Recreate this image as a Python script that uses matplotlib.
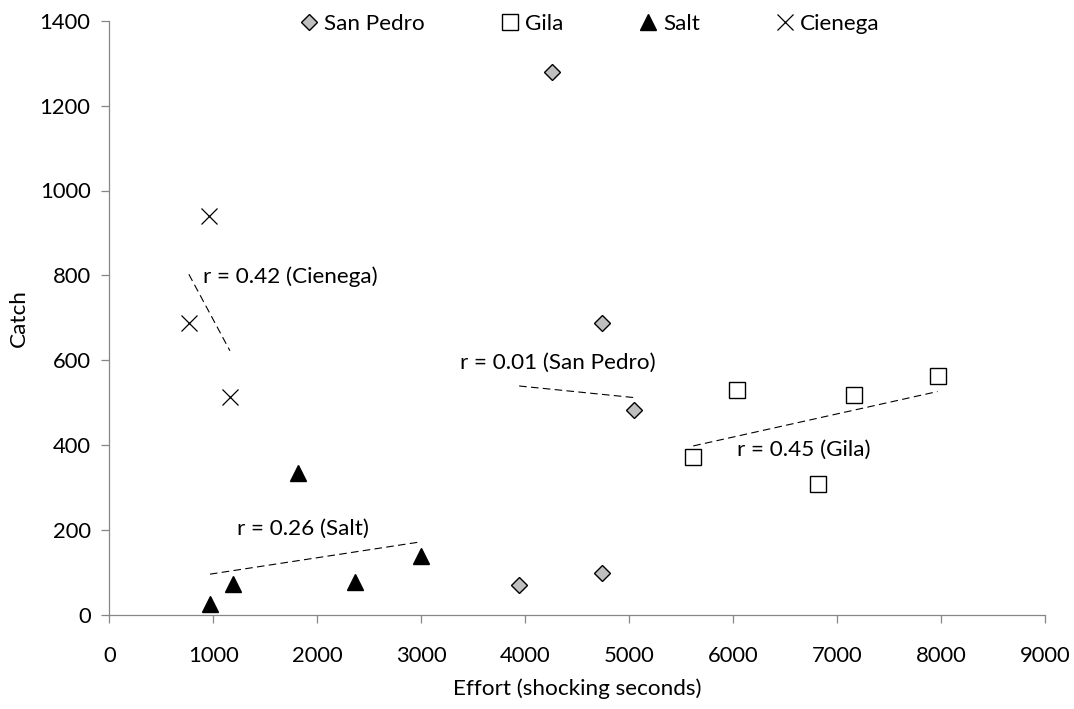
import numpy as np
import matplotlib
matplotlib.use("Agg")
import matplotlib.pyplot as plt

plt.rcParams['font.family'] = ['Lato', 'DejaVu Sans']

# Effort (shocking seconds) and catch per river
san_pedro_x = [4252, 4736, 5047, 3941, 4739]
san_pedro_y = [1280, 689, 483, 71, 100]
gila_x = [5615, 6032, 6811, 7162, 7964]
gila_y = [373, 530, 308, 518, 563]
salt_x = [968, 1193, 1813, 2367, 3000]
salt_y = [26, 73, 334, 78, 139]
cienega_x = [765, 957, 1160]
cienega_y = [687, 940, 513]

series_names = ["San Pedro", "Gila", "Salt", "Cienega"]
r_labels = ["r = 0.01 (San Pedro)", "r = 0.45 (Gila)", "r = 0.26 (Salt)", "r = 0.42 (Cienega)"]
r_label_pos = [(3369, 593), (6040, 389), (1227, 204), (903, 797)]

x_ticks = list(range(0, 9001, 1000))
y_ticks = list(range(0, 1401, 200))

TEXT_SIZE = 16.2
TICK_SIZE = 15.8

fig = plt.figure(figsize=(10.74, 7.09), dpi=100)
ax = fig.add_axes([109.3 / 1074, 1 - 615 / 709, (1045.3 - 109.3) / 1074, (615 - 20.7) / 709])

styles = [
    dict(marker='D', ms=8.3, mfc='#BFBFBF', mec='black', mew=1.0),
    dict(marker='s', ms=11.6, mfc='white', mec='black', mew=1.0),
    dict(marker='^', ms=11.5, mfc='black', mec='black', mew=1.0),
    dict(marker='x', ms=11.5, mfc='none', mec='black', mew=0.9),
]
data = [(san_pedro_x, san_pedro_y), (gila_x, gila_y), (salt_x, salt_y), (cienega_x, cienega_y)]

handles = []
for (xs, ys), st, name in zip(data, styles, series_names):
    h, = ax.plot(xs, ys, linestyle='none', label=name, zorder=3, **st)
    handles.append(h)
    # least-squares trend line over the observed effort range
    xs_a = np.asarray(xs, float)
    ys_a = np.asarray(ys, float)
    slope, icpt = np.polyfit(xs_a, ys_a, 1)
    xl = np.array([xs_a.min(), xs_a.max()])
    ax.plot(xl, slope * xl + icpt, color='black', lw=0.8, dashes=(6.8, 3.9), zorder=2)

for txt, (tx, ty) in zip(r_labels, r_label_pos):
    ax.text(tx, ty, txt, fontsize=TEXT_SIZE, ha='left', va='center', color='black')

ax.set_xlim(0, 9000)
ax.set_ylim(0, 1400)
ax.set_xticks(x_ticks)
ax.set_yticks(y_ticks)
ax.set_xticklabels([str(v) for v in x_ticks])
ax.set_yticklabels([str(v) for v in y_ticks])

for side in ['top', 'right']:
    ax.spines[side].set_visible(False)
for side in ['left', 'bottom']:
    ax.spines[side].set_color('#868686')
    ax.spines[side].set_linewidth(0.9)
ax.tick_params(axis='both', direction='out', length=5.5, width=0.9, color='#868686',
               labelsize=TICK_SIZE, labelcolor='black')
ax.tick_params(axis='x', pad=17)
ax.tick_params(axis='y', pad=8)

ax.set_xlabel("Effort (shocking seconds)", fontsize=TEXT_SIZE, labelpad=9)
ax.set_ylabel("Catch", fontsize=TEXT_SIZE, labelpad=8)

em = TEXT_SIZE * 100 / 72
leg = ax.legend(handles=handles, ncol=4, frameon=False, fontsize=TEXT_SIZE,
                loc='center left', bbox_to_anchor=((309 - em / 2) / 1074, 1 - 24 / 709),
                bbox_transform=fig.transFigure, borderpad=0, borderaxespad=0,
                handlelength=1.0, handletextpad=(15 - em / 2) / em,
                columnspacing=(85 - em / 2) / em, numpoints=1)

fig.savefig("out.png", dpi=100)
